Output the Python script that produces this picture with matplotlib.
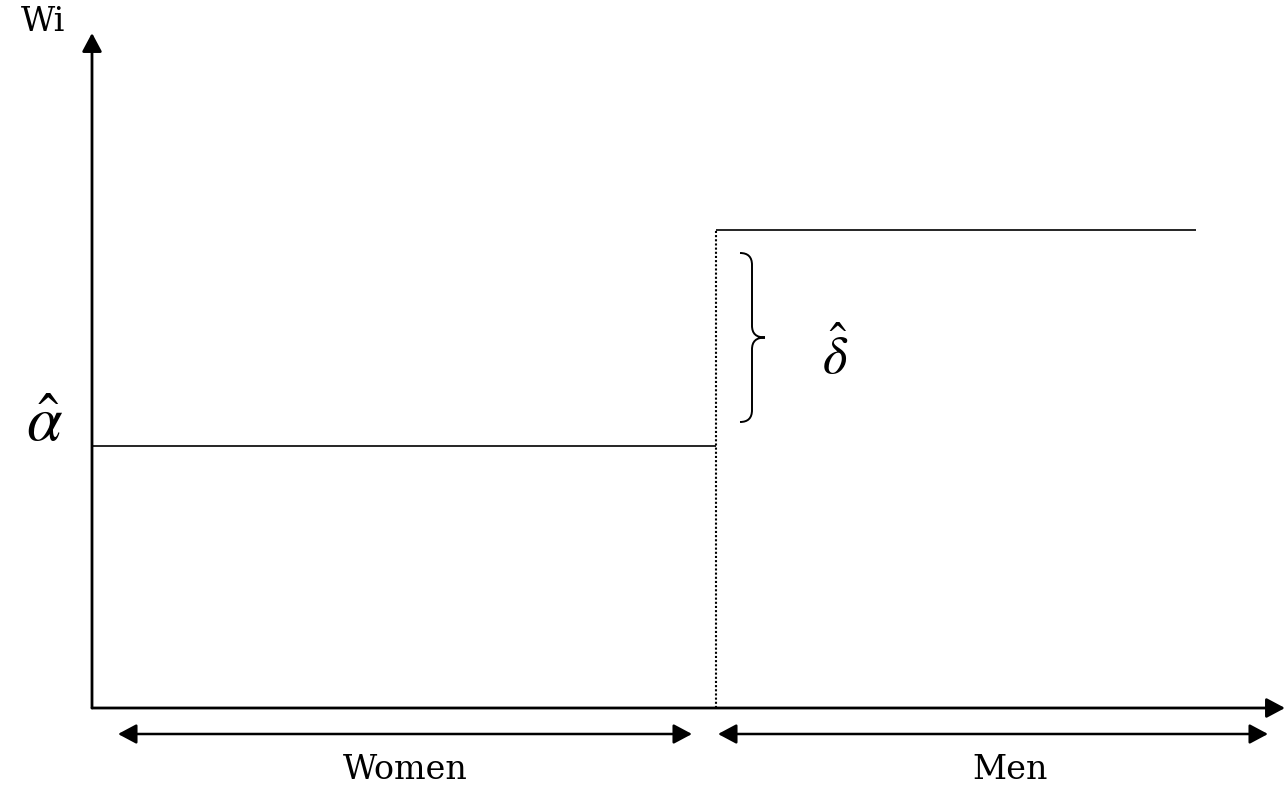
import matplotlib.pyplot as plt
from matplotlib.path import Path
from matplotlib.patches import PathPatch

# Diagram data (units: x along the axis, y = wage level above the x axis)
groups = ["Women", "Men"]
group_start = [0, 624]
group_end = [624, 1104]
range_start = [26, 626]
range_end = [600, 1176]
label_x = [313, 918]
wage_level = [262, 478]
x_max = 1193
y_max = 675

plt.rcParams["mathtext.fontset"] = "stix"

fig = plt.figure(figsize=(12.85, 7.9), dpi=100)
ax = fig.add_axes([0, 0, 1, 1])
ax.set_xlim(-92, 1193)
ax.set_ylim(-82, 708)
ax.axis("off")

head = dict(arrowstyle="-|>,head_length=0.75,head_width=0.4", color="black",
            lw=2, mutation_scale=15, shrinkA=0, shrinkB=0)

# axes with arrows
ax.annotate("", xy=(0, y_max), xytext=(0, 0), arrowprops=head)
ax.annotate("", xy=(x_max, 0), xytext=(0, 0), arrowprops=head)

# step function
for s, e, w in zip(group_start, group_end, wage_level):
    ax.hlines(w, s, e, color="black", lw=1.2)
ax.vlines(group_start[1], 0, wage_level[1], color="black", lw=1.5,
          linestyles=(0, (1, 1)))

# group ranges under the x axis
dbl = dict(head, arrowstyle="<|-|>,head_length=0.75,head_width=0.4", lw=1.8)
for s, e, lx, g in zip(range_start, range_end, label_x, groups):
    ax.annotate("", xy=(s, -26), xytext=(e, -26), arrowprops=dbl)
    ax.text(lx, -62, g, fontsize=24, family="DejaVu Serif",
            ha="center", va="center")

ax.text(-49, 686, "Wi", fontsize=24, family="DejaVu Serif",
        ha="center", va="center")

# brace showing the gap
x0, xm, xt = 648, 660, 673
top, bot = wage_level[1] - 23, wage_level[0] + 24
mid = (top + bot) / 2
verts = [(x0, top), (x0 + 8, top), (xm, top - 4), (xm, top - 12),
         (xm, mid + 12),
         (xm, mid + 4), (xm + 4, mid), (xt, mid),
         (xm + 4, mid), (xm, mid - 4), (xm, mid - 12),
         (xm, bot + 12),
         (xm, bot + 4), (x0 + 8, bot), (x0, bot)]
codes = [Path.MOVETO, Path.CURVE4, Path.CURVE4, Path.CURVE4,
         Path.LINETO,
         Path.CURVE4, Path.CURVE4, Path.CURVE4,
         Path.CURVE4, Path.CURVE4, Path.CURVE4,
         Path.LINETO,
         Path.CURVE4, Path.CURVE4, Path.CURVE4]
ax.add_patch(PathPatch(Path(verts, codes), fill=False, lw=1.4, color="black"))

ax.text(743, mid - 19, r"$\hat{\delta}$", fontsize=38, ha="center", va="center")
ax.text(-47, wage_level[0] + 23, r"$\hat{\alpha}$", fontsize=46,
        ha="center", va="center")

fig.savefig("out.png", dpi=100)
